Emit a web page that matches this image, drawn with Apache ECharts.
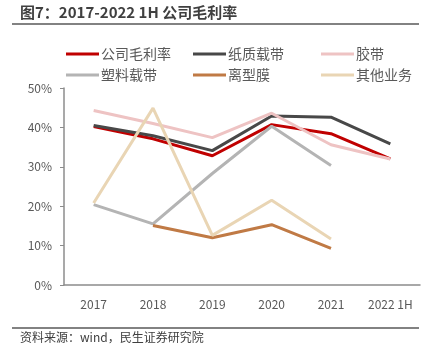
<!DOCTYPE html>
<html><head><meta charset="utf-8">
<script src="https://cdn.jsdelivr.net/npm/echarts@6/dist/echarts.min.js"></script>
<style>html,body{margin:0;padding:0;background:#fff}#c{width:434px;height:355px}</style>
</head><body><div id="c"></div>
<script>
var categories = ['2017','2018','2019','2020','2021','2022 1H'];
var seriesNames = ['公司毛利率','纸质载带','胶带','塑料载带','离型膜','其他业务'];
var grossMargin = [40.2, 37.1, 32.8, 40.7, 38.4, 32.0];
var paperTape = [40.5, 37.9, 34.1, 42.9, 42.6, 35.8];
var adhesiveTape = [44.3, 41.0, 37.4, 43.6, 35.6, 32.0];
var plasticTape = [20.4, 15.5, 28.3, 40.3, 30.3, null];
var releaseFilm = [null, 15.1, 12.0, 15.3, 9.3, null];
var otherBiz = [20.8, 44.9, 12.6, 21.5, 11.7, null];
var yTicks = [0, 10, 20, 30, 40, 50];

var colors = ['#C00000', '#484848', '#EEC3C3', '#B4B4B4', '#C07A45', '#E9D5B4'];
var dataList = [grossMargin, paperTape, adhesiveTape, plasticTape, releaseFilm, otherBiz];
var F = '"Noto Sans CJK SC", "Microsoft YaHei", sans-serif';

var legendPos = [[61,42],[188,42],[316,42],[61,63],[188,63],[316,63]];
var legends = seriesNames.map(function(n,i){
  return {data:[n], left:legendPos[i][0], top:legendPos[i][1], itemWidth:33, itemHeight:3, itemGap:0,
    icon:'rect', textStyle:{color:'#595959', fontSize:14, fontFamily:F, padding:[0,0,0,-3]}, selectedMode:false};
});

var chart = echarts.init(document.getElementById('c'), null, {renderer:'canvas'});
chart.setOption({
  animation:false,
  color: colors,
  legend: legends,
  grid:{left:64, right:14, top:88, bottom:70, containLabel:false},
  xAxis:{type:'category', data:categories, boundaryGap:true,
    axisLine:{lineStyle:{color:'#8c8c8c', width:1.5}}, axisTick:{show:false},
    axisLabel:{color:'#595959', fontSize:12, fontFamily:F, margin:13}},
  yAxis:{type:'value', min:yTicks[0], max:yTicks[yTicks.length-1], interval:10,
    axisLine:{show:true, lineStyle:{color:'#8c8c8c', width:1.5}},
    axisTick:{show:true, length:4, lineStyle:{color:'#8c8c8c'}},
    splitLine:{show:false},
    axisLabel:{color:'#595959', fontSize:12, fontFamily:F, margin:12, formatter:'{value}%'}},
  series: seriesNames.map(function(n,i){
    return {name:n, type:'line', data:dataList[i], symbol:'none', lineStyle:{width:3, color:colors[i]}, itemStyle:{color:colors[i]}};
  }),
  graphic:[
    {type:'text', left:20, top:5, style:{text:'图7：2017-2022 1H 公司毛利率', fill:'#404040', font:'bold 15px '+F}},
    {type:'line', shape:{x1:12,y1:24,x2:419,y2:24}, style:{stroke:'#595959', lineWidth:1.5}},
    {type:'line', shape:{x1:12,y1:328,x2:419,y2:328}, style:{stroke:'#595959', lineWidth:1.5}},
    {type:'text', left:20, top:331, style:{text:'资料来源：wind，民生证券研究院', fill:'#404040', font:'12px '+F}}
  ]
});
</script></body></html>
